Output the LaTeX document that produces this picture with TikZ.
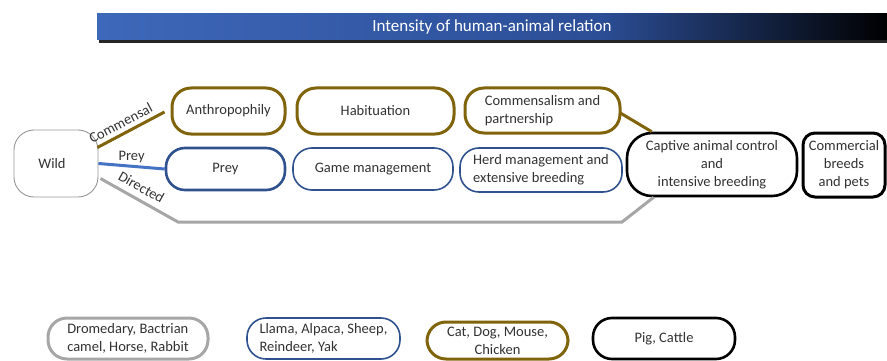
\documentclass[tikz,border=0pt]{standalone}
\usepackage{fontspec}
\setmainfont{Carlito}
\usetikzlibrary{calc}
\definecolor{goldc}{RGB}{128,100,12}
\definecolor{blued}{RGB}{47,82,143}
\definecolor{bluel}{RGB}{68,114,196}
\definecolor{grayc}{RGB}{166,166,166}
\definecolor{wildgray}{RGB}{150,150,150}
\definecolor{txt}{RGB}{50,50,50}
\definecolor{tb1}{RGB}{62,104,186}
\definecolor{tb2}{RGB}{44,78,150}
\begin{document}
\begin{tikzpicture}[x=1pt,y=-1pt,
  boxbase/.style={rectangle, align=center, inner sep=2pt, text=txt,
    font=\fontsize{14.5}{18}\selectfont},
  goldbox/.style={boxbase, draw=goldc, line width=3pt, rounded corners=19pt},
  bluethick/.style={boxbase, draw=blued, line width=2.6pt, rounded corners=19pt},
  bluethin/.style={boxbase, draw=blued, line width=1.6pt, rounded corners=19pt},
  blackbox/.style={boxbase, draw=black, line width=2.6pt, rounded corners=19pt},
  graybox/.style={boxbase, draw=grayc, line width=3pt, rounded corners=19pt},
  lbl/.style={font=\fontsize{14.5}{18}\selectfont, text=txt, inner sep=1pt},
  goldline/.style={draw=goldc, line width=3pt},
  blueline/.style={draw=bluel, line width=3pt},
  grayline/.style={draw=grayc, line width=3pt},
]
\useasboundingbox (0,0) rectangle (887,361);

% title bar
\fill[black!85] (99,38) rectangle (887,43);
\shade[left color=tb1, right color=tb2] (97,14) rectangle (600,40);
\shade[left color=tb2, right color=black] (599.5,14) rectangle (887,40);
\node[text=white, font=\fontsize{17}{19}\selectfont] (title) at (492,27) {Intensity of human-animal relation};

% wild
\node[boxbase, draw=wildgray, line width=0.9pt, rounded corners=20pt,
  minimum width=84pt, minimum height=67pt] (wild) at (56,163.5) {Wild\hspace*{8pt}};

% top row
\node[goldbox, minimum width=113pt, minimum height=46pt] (anth) at (228.5,111) {Anthropophily};
\node[goldbox, minimum width=157pt, minimum height=46pt] (habit) at (375.5,111) {Habituation};
\node[goldbox, minimum width=155pt, minimum height=45pt, align=left] (comm) at (542.5,110.5) {Commensalism and\\partnership};

% middle row
\node[bluethick, minimum width=119pt, minimum height=42pt] (prey) at (225.5,169) {Prey};
\node[bluethin, minimum width=160pt, minimum height=42pt] (game) at (373,169) {Game management};
\node[bluethin, minimum width=162pt, minimum height=44pt, align=left] (herd) at (541,170) {Herd management and\\extensive breeding};

\node[blackbox, rounded corners=25pt, minimum width=170pt, minimum height=63pt] (captive) at (712,164.5) {Captive animal control\\and\\intensive breeding};
\node[blackbox, line width=3pt, rounded corners=12pt, minimum width=82pt, minimum height=64pt, inner sep=0pt] (commercial) at (844,165) {Commercial\\breeds\\and pets};

% connectors
\draw[goldline] ($(wild.east)+(-1,-16)$) -- node[lbl, sloped, above=3pt, pos=0.42] {Commensal} ($(anth.west)+(-6,1)$);
\draw[blueline] (wild.east) -- node[lbl, above=1pt] {Prey} (prey.west);
\coordinate (d1) at (178,222);
\coordinate (d2) at (622,222);
\draw[grayline] ($(wild.east)+(2,15)$) -- node[lbl, sloped, above=5pt, pos=0.45] {Directed} (d1) -- (d2) -- ($(captive.south west)+(28,0)$);
\draw[goldline] ($(comm.east)+(-2,2)$) -- ($(captive.north west)+(26,0)$);

% bottom row
\node[graybox, minimum width=160pt, minimum height=41pt, align=left] (drom) at (128,338.5) {Dromedary, Bactrian\\camel, Horse, Rabbit};
\node[bluethin, minimum width=153pt, minimum height=41pt, align=left] (llama) at (323.5,338.5) {Llama, Alpaca, Sheep,\\Reindeer, Yak};
\node[goldbox, minimum width=141pt, minimum height=37pt] (cat) at (497.5,340.5) {Cat, Dog, Mouse,\\Chicken};
\node[blackbox, minimum width=142pt, minimum height=41pt] (pig) at (664,338.5) {Pig, Cattle};
\end{tikzpicture}
\end{document}
